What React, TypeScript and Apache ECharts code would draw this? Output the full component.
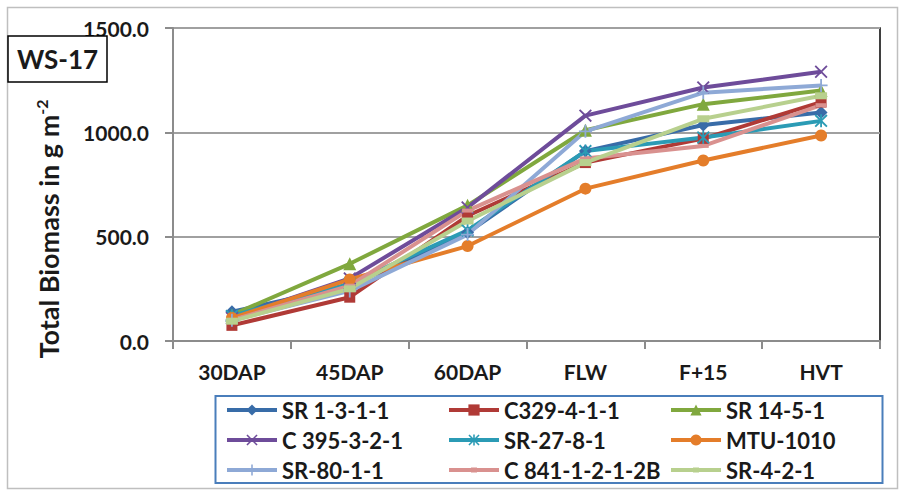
import React, { useEffect, useRef } from "react";
import * as echarts from "echarts";

const categories = ["30DAP", "45DAP", "60DAP", "FLW", "F+15", "HVT"];
const seriesNames = [
  "SR 1-3-1-1",
  "C329-4-1-1",
  "SR 14-5-1",
  "C 395-3-2-1",
  "SR-27-8-1",
  "MTU-1010",
  "SR-80-1-1",
  "C 841-1-2-1-2B",
  "SR-4-2-1",
];
const sr1311 = [140, 265, 520, 910, 1035, 1095];
const c329411 = [75, 210, 600, 855, 970, 1145];
const sr1451 = [125, 370, 650, 1010, 1135, 1200];
const c395321 = [110, 300, 640, 1080, 1215, 1290];
const sr2781 = [120, 275, 530, 910, 975, 1055];
const mtu1010 = [110, 295, 455, 730, 865, 985];
const sr8011 = [100, 240, 510, 1005, 1190, 1225];
const c8411212b = [100, 265, 625, 875, 935, 1130];
const sr421 = [95, 250, 575, 855, 1065, 1175];
const yTicks = [0, 500, 1000, 1500];

const values = [sr1311, c329411, sr1451, c395321, sr2781, mtu1010, sr8011, c8411212b, sr421];
const colors = ["#386CA8", "#B03A36", "#80A83E", "#6E4C9A", "#2B9BB5", "#E47D2A", "#8EA9D6", "#D9918F", "#B8D08E"];
const X_PATH = "path://M0,1 L1,0 L5,4 L9,0 L10,1 L6,5 L10,9 L9,10 L5,6 L1,10 L0,9 L4,5 Z";
const PLUS_PATH = "path://M4.3,0 H5.7 V4.3 H10 V5.7 H5.7 V10 H4.3 V5.7 H0 V4.3 H4.3 Z";
const STAR_PATH = "path://M0,1 L1,0 L5,4 L9,0 L10,1 L6,5 L10,9 L9,10 L5,6 L1,10 L0,9 L4,5 Z M4.3,0 H5.7 V10 H4.3 Z";
const DASH_PATH = "path://M0,0 H10 V10 H0 Z";
const LINE_ICON = "path://M0,0 H0.01 V14 H0 Z M0,5 H50 V9 H0 Z M22,4.5 H28 V9.5 H22 Z";
const symbols = ["diamond", "rect", "triangle", X_PATH, STAR_PATH, "circle", PLUS_PATH, DASH_PATH, DASH_PATH];
const symbolSizes: any[] = [13, 11, 13, 13, 13, 12, 13, [11, 4], [12, 7]];

const FONT = "Lato";

export default function App() {
  const ref = useRef<HTMLDivElement>(null);
  useEffect(() => {
    if (!ref.current) return;
    const chart = echarts.init(ref.current, null, { renderer: "svg" });
    const legendText = { fontFamily: FONT, fontWeight: "bold", fontSize: 22, color: "#1a1a1a", lineHeight: 24 };
    const legendItem = (name: string) => {
      const i = seriesNames.indexOf(name);
      if (i >= 7) return { name, icon: LINE_ICON };
      return { name };
    };
    const legendCol = (left: number, names: string[]) => ({
      left,
      top: 398,
      height: 120,
      orient: "vertical",
      itemWidth: 50,
      itemHeight: 14,
      itemGap: 6,
      padding: 0,
      textStyle: legendText,
      lineStyle: { width: 4 },
      data: names.map(legendItem),
      selectedMode: false,
    });
    chart.setOption({
      animation: false,
      backgroundColor: "#fff",
      grid: {
        left: 173,
        top: 28,
        right: 22,
        bottom: 152,
        show: true,
        borderColor: "#000",
        borderWidth: 1.5,
        backgroundColor: "transparent",
      },
      xAxis: {
        type: "category",
        data: categories,
        boundaryGap: true,
        axisLine: { lineStyle: { color: "#8C8C8C", width: 2 } },
        axisTick: { show: true, length: 8, lineStyle: { color: "#8C8C8C", width: 2 } },
        axisLabel: { margin: 20, fontFamily: FONT, fontWeight: "bold", fontSize: 21, color: "#1a1a1a" },
      },
      yAxis: {
        type: "value",
        min: yTicks[0],
        max: yTicks[yTicks.length - 1],
        interval: 500,
        axisLine: { show: true, lineStyle: { color: "#8C8C8C", width: 2 } },
        axisTick: { show: true, length: 8, lineStyle: { color: "#8C8C8C", width: 2 } },
        splitLine: { lineStyle: { color: "#A0A0A0", width: 2 } },
        axisLabel: {
          margin: 24,
          fontFamily: FONT,
          fontWeight: "bold",
          fontSize: 21,
          color: "#1a1a1a",
          formatter: (v: number) => v.toFixed(1),
        },
      },
      legend: [
        legendCol(225, [seriesNames[0], seriesNames[3], seriesNames[6]]),
        legendCol(447, [seriesNames[1], seriesNames[4], seriesNames[7]]),
        legendCol(669, [seriesNames[2], seriesNames[5], seriesNames[8]]),
      ],
      graphic: [
        {
          type: "rect",
          shape: { x: 7.5, y: 7.5, width: 890, height: 481 },
          style: { fill: "none", stroke: "#BFBFBF", lineWidth: 1.5 },
          silent: true,
        },
        {
          type: "rect",
          shape: { x: 215.5, y: 396, width: 667, height: 87 },
          style: { fill: "none", stroke: "#4A7EBB", lineWidth: 2 },
          silent: true,
        },
        {
          type: "rect",
          shape: { x: 8, y: 36, width: 99, height: 46 },
          style: { fill: "#fff", stroke: "#000", lineWidth: 1.5 },
          z: 10,
        },
        {
          type: "text",
          x: 57.5,
          y: 59,
          z: 11,
          style: {
            text: "WS-17",
            fontFamily: FONT,
            fontWeight: "bold",
            fontSize: 26,
            fill: "#1a1a1a",
            textAlign: "center",
            textVerticalAlign: "middle",
          },
        },
        {
          type: "text",
          x: 48,
          y: 229,
          rotation: Math.PI / 2,
          style: {
            text: "Total Biomass in g m{sup|-2}",
            fontFamily: FONT,
            fontWeight: "bold",
            fontSize: 27,
            fill: "#1a1a1a",
            textAlign: "center",
            textVerticalAlign: "middle",
            rich: {
              sup: {
                fontFamily: FONT,
                fontWeight: "bold",
                fontSize: 16,
                fill: "#1a1a1a",
                verticalAlign: "top",
                padding: [0, 0, 13, 0],
              },
            },
          },
        },
      ],
      series: seriesNames.map((name, i) => ({
        name,
        type: "line",
        data: values[i],
        symbol: symbols[i],
        symbolSize: symbolSizes[i],
        showAllSymbol: true,
        lineStyle: { color: colors[i], width: 4 },
        itemStyle: { color: colors[i] },
        emphasis: { disabled: true },
      })),
    });
    return () => chart.dispose();
  }, []);
  return (
    <div
      ref={ref}
      style={{ position: "fixed", left: 0, top: 0, width: 902, height: 493, background: "#fff" }}
    />
  );
}
